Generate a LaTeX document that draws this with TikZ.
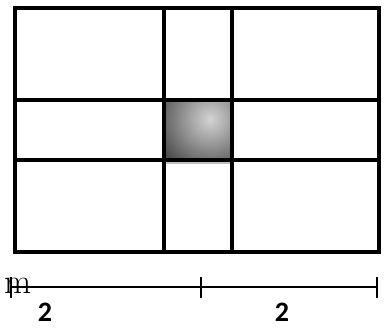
\documentclass[tikz,border=0pt]{standalone}
\usepackage{fontspec}
\newfontfamily\numfont{Carlito}
\usetikzlibrary{positioning}

\begin{document}
\begin{tikzpicture}[
  x=0.02cm, y=-0.02cm,
  grid/.style={draw=black, line width=0.09cm},
  bar/.style={draw=black, line width=0.05cm},
  tick/.style={draw=black, line width=0.05cm},
  numlbl/.style={font=\numfont\fontsize{16}{16}\selectfont\bfseries, inner sep=0pt},
  unitlbl/.style={font=\fontsize{20}{20}\selectfont, inner sep=0pt}
]
\useasboundingbox (0,0) rectangle (384,327);

% shaded middle cell
\begin{scope}
  \clip (164,100) rectangle (232,160);
  \shade[inner color=black!17, outer color=black!85] (210,119) circle (72);
\end{scope}
\fill[black!25] (166,160) rectangle (234,164);

% grid
\draw[grid] (15,8) rectangle (379,252);
\draw[grid] (164,8) -- (164,252);
\draw[grid] (232,8) -- (232,252);
\draw[grid] (15,100) -- (379,100);
\draw[grid] (15,160) -- (379,160);

% scale bar
\coordinate (s0) at (11,287);
\coordinate (s1) at (201,287);
\coordinate (s2) at (377,287);
\draw[bar] (s0) -- (s2);
\foreach \p in {s0,s1,s2}
  \draw[tick] ([yshift=10*0.02cm]\p) -- ([yshift=-11*0.02cm]\p);

\node[unitlbl, anchor=base west] (unit) at (4,293) {m};
\node[numlbl] (len1) at (45,312) {2};
\node[numlbl] (len2) at (282,312) {2};

\end{tikzpicture}
\end{document}
